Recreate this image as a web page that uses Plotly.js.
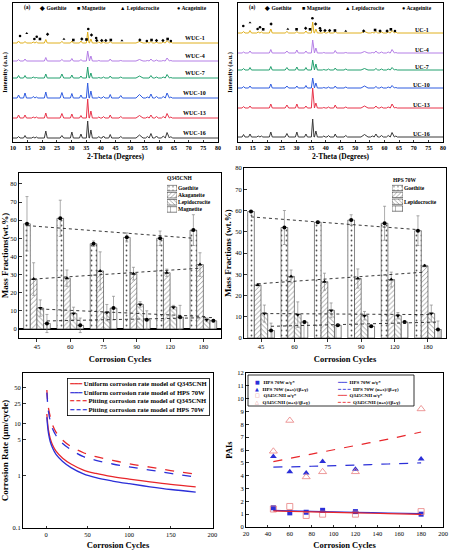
<!DOCTYPE html>
<html><head><meta charset="utf-8">
<script src="https://cdn.plot.ly/plotly-3.0.1.min.js"></script>
<style>html,body{margin:0;padding:0;background:#fff}#chart{width:450px;height:550px}</style>
</head><body><div id="chart"></div>
<script>
const FONT = "Liberation Serif, Times New Roman, serif";

// ---------------- XRD patterns (panels a) ----------------
const peakTheta = [11.9, 14.1, 16.9, 18.0, 21.2, 26.7, 30.1, 33.2, 35.5, 36.6, 39.3, 40.9, 43.2, 46.8, 53.2, 55.9, 57.1, 59.0, 61.3, 62.6, 63.9];
const peakWidth = [0.5, 0.5, 0.5, 0.5, 0.5, 0.6, 0.5, 0.5, 0.45, 0.5, 0.5, 0.5, 0.5, 0.6, 1.2, 0.6, 0.6, 0.6, 0.6, 0.6, 0.5];
const xrdColors = ["#e0b01e", "#b47ee6", "#22a06e", "#2f5ce0", "#e8344a", "#3a3a3a"];

const wucLabels = ["WUC-1", "WUC-4", "WUC-7", "WUC-10", "WUC-13", "WUC-16"];
const wucOffsets = [99, 81, 64, 44, 24, 4];
const wuc1Peaks = [2, 1.5, 1, 1, 3.5, 1.5, 2, 2, 11, 4, 1, 1, 1.5, 0.5, 1.5, 0.5, 1.5, 0.8, 1, 2.5, 1];
const wuc4Peaks = [1.5, 2, 0.5, 0.5, 3.5, 1.5, 2.5, 1.5, 10, 5, 0.5, 0.5, 2, 0.5, 1.5, 0.5, 2, 1, 0.5, 3, 0.5];
const wuc7Peaks = [2.5, 2.5, 1, 0.5, 4, 4, 3, 2, 11, 5, 0.5, 1, 2, 1, 2, 0.5, 2.5, 1, 1, 3.5, 0.5];
const wuc10Peaks = [3, 5, 1.5, 1, 6, 5.5, 4.5, 3, 15, 7, 1, 1.5, 3.5, 2.5, 3.5, 1, 4, 1.5, 1.5, 5, 1];
const wuc13Peaks = [3, 3, 1, 1, 5, 4.5, 4, 2.5, 19, 7, 1, 1.5, 3, 1.5, 2.5, 1, 3, 1.5, 1.5, 4.5, 1];
const wuc16Peaks = [1.5, 2.5, 1, 1, 7, 2.5, 6, 4, 17, 8, 1.5, 2, 3.5, 1.5, 3, 1.5, 4.5, 2, 2, 5.5, 1.5];

const ucLabels = ["UC-1", "UC-4", "UC-7", "UC-10", "UC-13", "UC-16"];
const ucOffsets = [109, 89, 72, 54, 34, 5];
const uc1Peaks = [1.5, 2.5, 1, 1, 4, 1.5, 1.5, 2, 11, 4, 1, 1, 1.5, 0.5, 1.5, 0.5, 1.5, 1, 1, 2.5, 1];
const uc4Peaks = [1, 2, 0.5, 0.5, 3.5, 2, 3, 2, 13, 5, 0.5, 0.5, 2.5, 0.5, 1.5, 0.5, 2, 1, 1, 3.5, 0.5];
const uc7Peaks = [1.5, 2.5, 0.5, 0.5, 3.5, 2.5, 3, 2.5, 10, 6, 0.5, 1, 2, 1, 1.5, 0.5, 1.5, 1, 1, 2.5, 0.5];
const uc10Peaks = [1.5, 2, 0.5, 0.5, 4, 2, 2, 2.5, 10, 5, 0.5, 1, 2, 1, 2, 0.5, 1.5, 1, 1, 2.5, 0.5];
const uc13Peaks = [1.5, 2, 0.5, 0.5, 4, 3, 4, 2, 20, 5, 0.5, 1, 3, 1, 2, 0.5, 2, 1, 1, 4, 0.5];
const uc16Peaks = [2.5, 3, 1, 1, 5, 3.5, 5, 3, 18, 6, 1, 1.5, 3, 1.5, 2.5, 1, 3, 1.5, 1.5, 4.5, 1];

const phaseNames = ["Goethite", "Magnetite", "Lepidocrocite", "Acageinite"];
const phaseSymbols = ["diamond", "square", "triangle-up", "circle"];
// phase index: 0 Goethite, 1 Magnetite, 2 Lepidocrocite, 3 Akaganeite
const wucMarkTheta = [12.4, 14.7, 17.3, 18.1, 19.2, 21.8, 27.4, 30.6, 33.5, 35.1, 35.7, 36.8, 38.4, 38.6, 40.3, 41.7, 43.4, 47.2, 53.3, 55.7, 57.3, 59.0, 61.2, 62.8, 63.9];
const wucMarkY = [106, 108.7, 103, 105.3, 103, 107.7, 103, 102, 103, 102.5, 113, 107, 104, 101.5, 101.5, 101.5, 102, 101.5, 102, 101, 102, 101.5, 101.5, 103, 101];
const wucMarkPhase = [3, 2, 3, 3, 1, 0, 2, 1, 0, 1, 3, 0, 3, 0, 0, 0, 1, 2, 0, 3, 1, 0, 0, 1, 3];
const ucMarkTheta = [11.8, 14.1, 16.7, 17.5, 18.6, 21.3, 27.0, 30.0, 33.1, 34.6, 35.4, 36.5, 38.0, 38.2, 39.7, 41.3, 43.1, 46.8, 52.9, 56.8, 58.5, 60.9, 62.2, 63.6];
const ucMarkY = [116, 119.3, 113, 114.7, 112.7, 118, 113, 112.7, 113.7, 112.7, 123.7, 118, 113.7, 111.5, 111.5, 111.5, 111.5, 111, 111, 112, 111, 111, 112.7, 111];
const ucMarkPhase = [3, 2, 3, 3, 1, 0, 2, 1, 0, 1, 3, 0, 3, 0, 0, 0, 1, 2, 0, 1, 0, 0, 1, 3];

// ---------------- Mass fractions (bar panels) ----------------
const cycleLabels = ["45", "60", "75", "90", "120", "180"];
const mineralNames = ["Goethite", "Akaganeite", "Lepidocrocite", "Magnetite"];
const q345Goethite = [58, 61, 47, 50.5, 50, 54.5];
const q345Akaganeite = [27.5, 28, 32, 30.5, 31, 35.5];
const q345Lepidocrocite = [11.5, 8.5, 9, 13.5, 12, 5];
const q345Magnetite = [3, 2, 11.5, 5, 6.5, 4.5];
const q345GoethiteErr = [15, 10, 1.5, 2.5, 4, 8.5];
const q345AkaganeiteErr = [9, 4.5, 10.5, 3.5, 2, 6.5];
const q345LepidocrociteErr = [4.5, 3.5, 4.5, 1.5, 1, 1];
const q345MagnetiteErr = [5, 4, 6.5, 5, 6.5, 0.5];
const q345TrendStart = [57, 27.5, 11, 4.4];
const q345TrendEnd = [50, 33.5, 6.8, 6.3];

const hpsGoethite = [59.5, 52, 54.5, 55.5, 54, 50.5];
const hpsAkaganeite = [25, 29, 26.5, 28, 27.5, 34];
const hpsLepidocrocite = [11.5, 11, 13, 10.5, 10.5, 11.5];
const hpsMagnetite = [3.5, 7.5, 6, 5.5, 7.5, 4];
const hpsGoethiteErr = [0.5, 8, 0.5, 2.5, 8, 7];
const hpsAkaganeiteErr = [0.5, 3, 4, 4.5, 3.5, 0.5];
const hpsLepidocrociteErr = [4, 6, 3.5, 2, 1.5, 4];
const hpsMagnetiteErr = [3.5, 0.5, 0.5, 0.5, 0.5, 4];
const hpsTrendStart = [57, 25.5, 11.5, 5.5];
const hpsTrendEnd = [51, 31, 11, 7.5];
const legendSwatch = [1, 1, 1, 1];

// ---------------- Corrosion rate models ----------------
const rateCycles = [1, 2, 3, 5, 8, 12, 20, 30, 45, 60, 80, 100, 125, 150, 180];
const uniformQ345 = [15.5, 10, 7.5, 5.3, 3.9, 3.0, 2.2, 1.7, 1.3, 1.12, 0.97, 0.87, 0.77, 0.69, 0.62];
const uniformHPS = [13.5, 8.7, 6.5, 4.6, 3.4, 2.6, 1.9, 1.45, 1.1, 0.93, 0.8, 0.71, 0.62, 0.55, 0.49];
const pittingQ345 = [45, 27, 20, 14, 9.5, 7, 4.9, 3.7, 2.8, 2.35, 2.0, 1.72, 1.48, 1.27, 1.08];
const pittingHPS = [40, 24, 17, 11.5, 8, 6, 4.2, 3.2, 2.35, 2.0, 1.7, 1.5, 1.3, 1.12, 0.95];
const rateNames = ["Uniform corrosion rate model of Q345CNH", "Uniform corrosion rate model of HPS 70W", "Pitting corrosion rate model of Q345CNH", "Pitting corrosion rate model of HPS 70W"];

// ---------------- PAIs ----------------
const paiCycles = [45, 60, 75, 90, 120, 180];
const hpsAlphaGamma = [1.5, 1.1, 1.15, 1.3, 1.2, 1.0];
const hpsRatio = [5.5, 4.3, 4.2, 5.1, 4.5, 5.3];
const q345AlphaGamma = [1.4, 1.6, 0.9, 1.0, 1.0, 1.2];
const q345Ratio = [5.9, 8.3, 3.9, 4.3, 4.3, 9.2];
const fitCycles = [45, 60, 75, 90, 120, 150, 180];
const hpsAlphaGammaFit = [1.3, 1.26, 1.23, 1.2, 1.14, 1.09, 1.04];
const hpsRatioFit = [4.67, 4.69, 4.72, 4.76, 4.83, 4.91, 5.0];
const q345AlphaGammaFit = [1.25, 1.22, 1.19, 1.16, 1.1, 1.04, 0.98];
const q345RatioFit = [5.1, 5.35, 5.6, 5.85, 6.35, 6.85, 7.4];

// ================= build =================
const BLK = '#000';
const RED = '#e8262b', BLUE = '#2b2fd8', PINK = '#e98080';
const traces = [];
const annotations = [];
const shapes = [];

function xrdTrace(peaks, base, color, xa, ya) {
  const x = [10], y = [base];
  peakTheta.forEach((p, i) => { x.push(p - peakWidth[i], p, p + peakWidth[i]); y.push(base, base + peaks[i], base); });
  x.push(80); y.push(base);
  return {type: 'scatter', mode: 'lines', x, y, xaxis: xa, yaxis: ya, line: {color, width: 1}, hoverinfo: 'skip', showlegend: false};
}
const wucPeaks = [wuc1Peaks, wuc4Peaks, wuc7Peaks, wuc10Peaks, wuc13Peaks, wuc16Peaks];
const ucPeaks = [uc1Peaks, uc4Peaks, uc7Peaks, uc10Peaks, uc13Peaks, uc16Peaks];
wucPeaks.forEach((pk, i) => {
  traces.push(xrdTrace(pk, wucOffsets[i], xrdColors[i], 'x', 'y'));
  annotations.push({xref: 'x', yref: 'y', x: 72, y: wucOffsets[i] + 5, text: wucLabels[i], showarrow: false, font: {family: FONT, size: 6, weight: 'bold', color: BLK}});
});
ucPeaks.forEach((pk, i) => {
  traces.push(xrdTrace(pk, ucOffsets[i], xrdColors[i], 'x2', 'y2'));
  annotations.push({xref: 'x2', yref: 'y2', x: 72.8, y: ucOffsets[i] + 3, text: ucLabels[i], showarrow: false, font: {family: FONT, size: 6, weight: 'bold', color: BLK}});
});
traces.push({type: 'scatter', mode: 'markers', x: wucMarkTheta, y: wucMarkY, xaxis: 'x', yaxis: 'y', showlegend: false, hoverinfo: 'skip',
  marker: {symbol: wucMarkPhase.map(p => phaseSymbols[p]), size: 2.6, color: BLK}});
traces.push({type: 'scatter', mode: 'markers', x: ucMarkTheta, y: ucMarkY, xaxis: 'x2', yaxis: 'y2', showlegend: false, hoverinfo: 'skip',
  marker: {symbol: ucMarkPhase.map(p => phaseSymbols[p]), size: 2.6, color: BLK}});

// phase key text for XRD panels
const phaseGlyphs = ["◆", "■", "▲", "●"];
[0, 225].forEach(dx => {
  const lefts = [22, 37, 75, 118, 175];
  const texts = ["(a)"].concat(phaseNames.map((n, i) => phaseGlyphs[i] + " " + n));
  texts.forEach((t, i) => annotations.push({xref: 'paper', yref: 'paper', x: (lefts[i] + dx) / 450, y: 1 - 8 / 550, xanchor: 'left', yanchor: 'middle', text: t, showarrow: false, font: {family: FONT, size: 5.5, weight: 'bold', color: BLK}}));
});

// bars
const catIndex = cycleLabels.map((c, i) => i);
const barOffsets = [-0.4, -0.2, 0, 0.2];
const barWidth = 0.2;
const patShapes = [".", "/", "\\", "|"];
const patSizes = [5, 3.5, 3.5, 8];
const patSolid = [0.1, 0.16, 0.16, 0.06];
const markSymbols = ["circle", "triangle-up", "triangle-down", "circle"];
function barSet(vals, errs, tStart, tEnd, xa, ya) {
  vals.forEach((v, k) => {
    traces.push({type: 'bar', x: catIndex, y: v, xaxis: xa, yaxis: ya, offset: barOffsets[k], width: barWidth, showlegend: false, hoverinfo: 'skip',
      marker: {color: '#fff', line: {color: '#333', width: 0.6}, pattern: {shape: patShapes[k], size: patSizes[k], solidity: patSolid[k], fgcolor: '#555', bgcolor: '#fff'}},
      error_y: {type: 'data', array: errs[k], visible: true, color: '#888', thickness: 0.7, width: 1.5}});
  });
  vals.forEach((v, k) => {
    const cx = catIndex.map(i => i + barOffsets[k] + barWidth / 2);
    traces.push({type: 'scatter', mode: 'markers', x: cx, y: v, xaxis: xa, yaxis: ya, showlegend: false, hoverinfo: 'skip',
      marker: {symbol: markSymbols[k], size: 4, color: BLK}});
    traces.push({type: 'scatter', mode: 'lines', x: [cx[0], cx[cx.length - 1]], y: [tStart[k], tEnd[k]], xaxis: xa, yaxis: ya, showlegend: false, hoverinfo: 'skip',
      line: {color: '#222', width: 0.9, dash: 'dot'}});
  });
}
barSet([q345Goethite, q345Akaganeite, q345Lepidocrocite, q345Magnetite], [q345GoethiteErr, q345AkaganeiteErr, q345LepidocrociteErr, q345MagnetiteErr], q345TrendStart, q345TrendEnd, 'x3', 'y3');
barSet([hpsGoethite, hpsAkaganeite, hpsLepidocrocite, hpsMagnetite], [hpsGoethiteErr, hpsAkaganeiteErr, hpsLepidocrociteErr, hpsMagnetiteErr], hpsTrendStart, hpsTrendEnd, 'x4', 'y4');

// legend swatches for bar panels (mini axes)
[['x7', 'y7'], ['x8', 'y8']].forEach(([xa, ya]) => {
  traces.push({type: 'bar', orientation: 'h', x: legendSwatch, y: mineralNames, xaxis: xa, yaxis: ya, width: 0.78, showlegend: false, hoverinfo: 'skip',
    marker: {color: '#fff', line: {color: '#333', width: 0.6}, pattern: {shape: patShapes, size: patSizes.map(s => Math.max(3, s - 1)), solidity: patSolid, fgcolor: '#555', bgcolor: '#fff'}}});
});
annotations.push({xref: 'paper', yref: 'paper', x: 165 / 450, y: 1 - 178 / 550, xanchor: 'left', yanchor: 'middle', text: 'Q345CNH', showarrow: false, font: {family: FONT, size: 5.5, weight: 'bold', color: BLK}});
annotations.push({xref: 'paper', yref: 'paper', x: 391 / 450, y: 1 - 180 / 550, xanchor: 'left', yanchor: 'middle', text: 'HPS 70W', showarrow: false, font: {family: FONT, size: 5.5, weight: 'bold', color: BLK}});

// corrosion rate
const rateSeries = [uniformQ345, uniformHPS, pittingQ345, pittingHPS];
const rateColors = [RED, BLUE, RED, BLUE];
const rateDash = ['solid', 'solid', 'dash', 'dash'];
rateSeries.forEach((s, i) => traces.push({type: 'scatter', mode: 'lines', x: rateCycles, y: s, xaxis: 'x5', yaxis: 'y5', name: rateNames[i], showlegend: false, hoverinfo: 'skip',
  line: {color: rateColors[i], width: 1.3, dash: rateDash[i], shape: 'spline'}}));
const lineGlyph = {solid: '━━━', dash: '━ ━ ━'};
annotations.push({xref: 'paper', yref: 'paper', x: 67 / 450, y: 1 - 378 / 550, xanchor: 'left', yanchor: 'top', align: 'left', showarrow: false,
  bordercolor: BLK, borderwidth: 0.8, borderpad: 1.5, bgcolor: '#fff',
  font: {family: FONT, size: 6.6, weight: 'bold', color: BLK},
  text: rateNames.map((n, i) => '<span style="color:' + rateColors[i] + ';font-family:DejaVu Sans">' + lineGlyph[rateDash[i]] + '</span> ' + n).join('<br>')});

// PAIs
traces.push({type: 'scatter', mode: 'markers', x: paiCycles, y: hpsAlphaGamma, xaxis: 'x6', yaxis: 'y6', showlegend: false, hoverinfo: 'skip', marker: {symbol: 'square', size: 5, color: BLUE}});
traces.push({type: 'scatter', mode: 'markers', x: paiCycles, y: hpsRatio, xaxis: 'x6', yaxis: 'y6', showlegend: false, hoverinfo: 'skip', marker: {symbol: 'triangle-up', size: 6, color: BLUE}});
traces.push({type: 'scatter', mode: 'markers', x: paiCycles, y: q345AlphaGamma, xaxis: 'x6', yaxis: 'y6', showlegend: false, hoverinfo: 'skip', marker: {symbol: 'square-open', size: 6, color: PINK, line: {width: 0.8}}});
traces.push({type: 'scatter', mode: 'markers', x: paiCycles, y: q345Ratio, xaxis: 'x6', yaxis: 'y6', showlegend: false, hoverinfo: 'skip', marker: {symbol: 'triangle-up-open', size: 7, color: PINK, line: {width: 0.8}}});
[[hpsAlphaGammaFit, BLUE, 'solid'], [hpsRatioFit, BLUE, 'dash'], [q345AlphaGammaFit, RED, 'solid'], [q345RatioFit, RED, 'dash']].forEach(([s, c, d]) =>
  traces.push({type: 'scatter', mode: 'lines', x: fitCycles, y: s, xaxis: 'x6', yaxis: 'y6', showlegend: false, hoverinfo: 'skip', line: {color: c, width: 1.2, dash: d, shape: 'spline'}}));
const paiNames = ["HPS 70W α/γ*", "HPS 70W (α+s)/(β+γ)", "Q345CNH α/γ*", "Q345CNH (α+s)/(β+γ)"];
const paiGlyphs = [['■', BLUE], ['▲', BLUE], ['□', PINK], ['△', PINK]];
const paiLines = [[BLUE, 'solid'], [BLUE, 'dash'], [RED, 'solid'], [RED, 'dash']];
annotations.push({xref: 'paper', yref: 'paper', x: 253 / 450, y: 1 - 376.5 / 550, xanchor: 'left', yanchor: 'top', align: 'left', showarrow: false,
  font: {family: FONT, size: 5, weight: 'bold', color: BLK},
  text: paiNames.map((n, i) => '<span style="color:' + paiGlyphs[i][1] + ';font-family:DejaVu Sans">' + paiGlyphs[i][0] + '</span>   ' + n).join('<br>')});
annotations.push({xref: 'paper', yref: 'paper', x: 335 / 450, y: 1 - 376.5 / 550, xanchor: 'left', yanchor: 'top', align: 'left', showarrow: false,
  font: {family: FONT, size: 5, weight: 'bold', color: BLK},
  text: paiNames.map((n, i) => '<span style="color:' + paiLines[i][0] + ';font-family:DejaVu Sans">' + lineGlyph[paiLines[i][1]] + '</span>  ' + n).join('<br>')});
shapes.push({type: 'rect', xref: 'paper', yref: 'paper', x0: 248 / 450, x1: 414 / 450, y0: 1 - 406 / 550, y1: 1 - 375 / 550, line: {color: BLK, width: 0.8}});

// ================= layout =================
const tickFont = {family: FONT, size: 6.5, color: BLK};
function ax(extra) {
  return Object.assign({showline: true, linecolor: BLK, linewidth: 1, mirror: true, ticks: 'inside', ticklen: 2.5, tickwidth: 0.8, tickcolor: BLK,
    showgrid: false, zeroline: false, automargin: false, tickfont: tickFont}, extra);
}
function ttl(text, size, standoff) { return {text, font: {family: FONT, size, weight: 'bold', color: BLK}, standoff}; }
const px = v => v / 450, py = v => 1 - v / 550;

const layout = {
  width: 450, height: 550, margin: {l: 0, r: 0, t: 0, b: 0}, paper_bgcolor: '#fff', plot_bgcolor: '#fff',
  showlegend: false, barmode: 'overlay', font: {family: FONT, color: BLK},
  xaxis: ax({domain: [px(13), px(218)], anchor: 'y', range: [10, 80], dtick: 5, tickfont: {family: FONT, size: 6, weight: 'bold', color: BLK}, title: ttl('2-Theta (Degrees)', 7.5, 3)}),
  yaxis: ax({domain: [py(142), py(3)], anchor: 'x', range: [0, 139], showticklabels: false, ticks: '', title: ttl('Intensity (a.u.)', 6.5, 3)}),
  xaxis2: ax({domain: [px(238), px(443)], anchor: 'y2', range: [10, 80], dtick: 5, tickfont: {family: FONT, size: 6, weight: 'bold', color: BLK}, title: ttl('2-Theta (Degrees)', 7.5, 3)}),
  yaxis2: ax({domain: [py(142), py(3)], anchor: 'x2', range: [0, 139], showticklabels: false, ticks: '', title: ttl('Intensity (a.u.)', 6.5, 3)}),
  xaxis3: ax({domain: [px(19), px(221)], anchor: 'y3', range: [-0.54, 5.53], tickvals: catIndex, ticktext: cycleLabels, ticks: 'outside', title: ttl('Corrosion Cycles', 8.5, 6)}),
  yaxis3: ax({domain: [py(338), py(173)], anchor: 'x3', range: [-5, 86], dtick: 10, zeroline: true, zerolinecolor: BLK, zerolinewidth: 1.5, title: ttl('Mass Fractions(wt.%)', 9, 2)}),
  xaxis4: ax({domain: [px(244), px(446)], anchor: 'y4', range: [-0.51, 5.54], tickvals: catIndex, ticktext: cycleLabels, ticks: 'outside', title: ttl('Corrosion Cycles', 8.5, 6)}),
  yaxis4: ax({domain: [py(338), py(168)], anchor: 'x4', range: [0, 80], dtick: 10, title: ttl('Mass Fractions (wt.%)', 9, 2)}),
  xaxis5: ax({domain: [px(23), px(213)], anchor: 'y5', range: [-27.7, 200.8], tickvals: [0, 50, 100, 150, 200], title: ttl('Corrosion Cycles', 8.5, 6)}),
  yaxis5: ax({domain: [py(528), py(373)], anchor: 'x5', type: 'log', range: [-1, 1.98], tickvals: [0.1, 1, 5, 10, 25, 50], ticktext: ['0.1', '1', '5', '10', '25', '50'], title: ttl('Corrosion Rate (μm/cycle)', 9, 2)}),
  xaxis6: ax({domain: [px(246), px(443)], anchor: 'y6', range: [20, 200], dtick: 20, title: ttl('Corrosion Cycles', 8.5, 6)}),
  yaxis6: ax({domain: [py(527), py(373)], anchor: 'x6', range: [0, 12], dtick: 1, title: ttl('PAIs', 8.5, 3)}),
  xaxis7: {domain: [px(167), px(177)], anchor: 'y7', range: [0, 1], visible: false, fixedrange: true},
  yaxis7: {domain: [py(213), py(184.5)], anchor: 'x7', type: 'category', categoryarray: mineralNames, autorange: 'reversed', side: 'right', showline: false, showgrid: false, zeroline: false, ticks: '', automargin: false,
    tickfont: {family: FONT, size: 5.5, weight: 'bold', color: BLK}},
  xaxis8: {domain: [px(392), px(403)], anchor: 'y8', range: [0, 1], visible: false, fixedrange: true},
  yaxis8: {domain: [py(212), py(184.5)], anchor: 'x8', type: 'category', categoryarray: mineralNames, autorange: 'reversed', side: 'right', showline: false, showgrid: false, zeroline: false, ticks: '', automargin: false,
    tickfont: {family: FONT, size: 5.5, weight: 'bold', color: BLK}},
  annotations, shapes
};

Plotly.newPlot('chart', traces, layout, {displayModeBar: false, staticPlot: true});
</script>
</body></html>
